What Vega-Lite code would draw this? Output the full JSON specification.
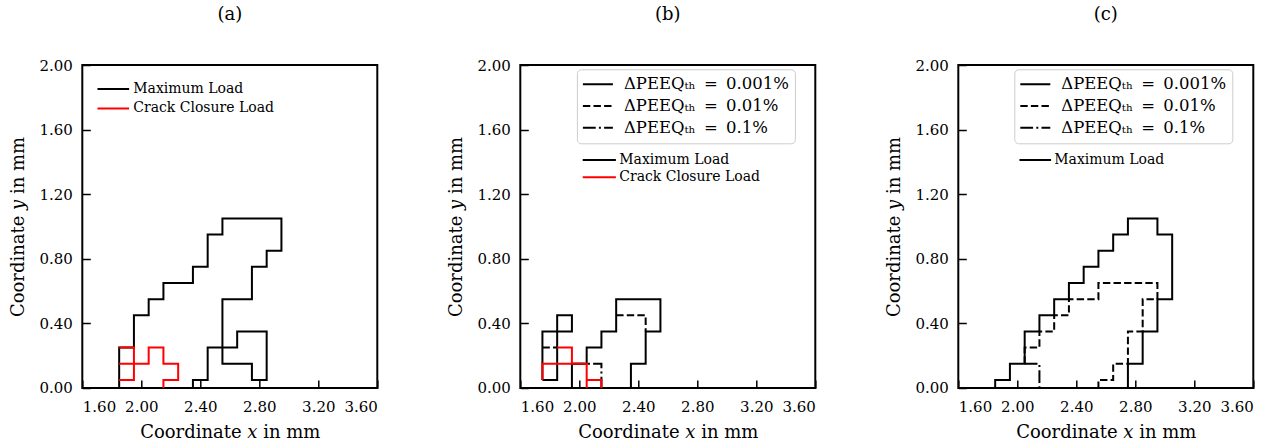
{
"$schema": "https://vega.github.io/schema/vega-lite/v6.json",
"autosize": {"type": "pad"},
"padding": {"left": 8.3, "top": 5, "right": 0, "bottom": 0},
"spacing": 143,
"bounds": "flush",
"datasets": {"pts": [
{"p":"a","g":"a1","i":0,"x":1.85,"y":0,"load":"Maximum Load","lev":"0.001%"},
{"p":"a","g":"a1","i":1,"x":1.85,"y":0.25,"load":"Maximum Load","lev":"0.001%"},
{"p":"a","g":"a1","i":2,"x":1.95,"y":0.25,"load":"Maximum Load","lev":"0.001%"},
{"p":"a","g":"a1","i":3,"x":1.95,"y":0.45,"load":"Maximum Load","lev":"0.001%"},
{"p":"a","g":"a1","i":4,"x":2.05,"y":0.45,"load":"Maximum Load","lev":"0.001%"},
{"p":"a","g":"a1","i":5,"x":2.05,"y":0.55,"load":"Maximum Load","lev":"0.001%"},
{"p":"a","g":"a1","i":6,"x":2.15,"y":0.55,"load":"Maximum Load","lev":"0.001%"},
{"p":"a","g":"a1","i":7,"x":2.15,"y":0.65,"load":"Maximum Load","lev":"0.001%"},
{"p":"a","g":"a1","i":8,"x":2.35,"y":0.65,"load":"Maximum Load","lev":"0.001%"},
{"p":"a","g":"a1","i":9,"x":2.35,"y":0.75,"load":"Maximum Load","lev":"0.001%"},
{"p":"a","g":"a1","i":10,"x":2.45,"y":0.75,"load":"Maximum Load","lev":"0.001%"},
{"p":"a","g":"a1","i":11,"x":2.45,"y":0.95,"load":"Maximum Load","lev":"0.001%"},
{"p":"a","g":"a1","i":12,"x":2.55,"y":0.95,"load":"Maximum Load","lev":"0.001%"},
{"p":"a","g":"a1","i":13,"x":2.55,"y":1.05,"load":"Maximum Load","lev":"0.001%"},
{"p":"a","g":"a1","i":14,"x":2.95,"y":1.05,"load":"Maximum Load","lev":"0.001%"},
{"p":"a","g":"a1","i":15,"x":2.95,"y":0.85,"load":"Maximum Load","lev":"0.001%"},
{"p":"a","g":"a1","i":16,"x":2.85,"y":0.85,"load":"Maximum Load","lev":"0.001%"},
{"p":"a","g":"a1","i":17,"x":2.85,"y":0.75,"load":"Maximum Load","lev":"0.001%"},
{"p":"a","g":"a1","i":18,"x":2.75,"y":0.75,"load":"Maximum Load","lev":"0.001%"},
{"p":"a","g":"a1","i":19,"x":2.75,"y":0.55,"load":"Maximum Load","lev":"0.001%"},
{"p":"a","g":"a1","i":20,"x":2.55,"y":0.55,"load":"Maximum Load","lev":"0.001%"},
{"p":"a","g":"a1","i":21,"x":2.55,"y":0.15,"load":"Maximum Load","lev":"0.001%"},
{"p":"a","g":"a1","i":22,"x":2.75,"y":0.15,"load":"Maximum Load","lev":"0.001%"},
{"p":"a","g":"a1","i":23,"x":2.75,"y":0.05,"load":"Maximum Load","lev":"0.001%"},
{"p":"a","g":"a1","i":24,"x":2.85,"y":0.05,"load":"Maximum Load","lev":"0.001%"},
{"p":"a","g":"a1","i":25,"x":2.85,"y":0.35,"load":"Maximum Load","lev":"0.001%"},
{"p":"a","g":"a1","i":26,"x":2.65,"y":0.35,"load":"Maximum Load","lev":"0.001%"},
{"p":"a","g":"a1","i":27,"x":2.65,"y":0.25,"load":"Maximum Load","lev":"0.001%"},
{"p":"a","g":"a1","i":28,"x":2.45,"y":0.25,"load":"Maximum Load","lev":"0.001%"},
{"p":"a","g":"a1","i":29,"x":2.45,"y":0.05,"load":"Maximum Load","lev":"0.001%"},
{"p":"a","g":"a1","i":30,"x":2.35,"y":0.05,"load":"Maximum Load","lev":"0.001%"},
{"p":"a","g":"a1","i":31,"x":2.35,"y":0,"load":"Maximum Load","lev":"0.001%"},
{"p":"a","g":"a2","i":0,"x":2.15,"y":0,"load":"Crack Closure Load","lev":"0.001%"},
{"p":"a","g":"a2","i":1,"x":2.15,"y":0.05,"load":"Crack Closure Load","lev":"0.001%"},
{"p":"a","g":"a2","i":2,"x":2.25,"y":0.05,"load":"Crack Closure Load","lev":"0.001%"},
{"p":"a","g":"a2","i":3,"x":2.25,"y":0.15,"load":"Crack Closure Load","lev":"0.001%"},
{"p":"a","g":"a2","i":4,"x":2.15,"y":0.15,"load":"Crack Closure Load","lev":"0.001%"},
{"p":"a","g":"a2","i":5,"x":2.15,"y":0.25,"load":"Crack Closure Load","lev":"0.001%"},
{"p":"a","g":"a2","i":6,"x":2.05,"y":0.25,"load":"Crack Closure Load","lev":"0.001%"},
{"p":"a","g":"a2","i":7,"x":2.05,"y":0.15,"load":"Crack Closure Load","lev":"0.001%"},
{"p":"a","g":"a2","i":8,"x":1.85,"y":0.15,"load":"Crack Closure Load","lev":"0.001%"},
{"p":"a","g":"a3","i":0,"x":1.85,"y":0.05,"load":"Crack Closure Load","lev":"0.001%"},
{"p":"a","g":"a3","i":1,"x":1.95,"y":0.05,"load":"Crack Closure Load","lev":"0.001%"},
{"p":"a","g":"a3","i":2,"x":1.95,"y":0.25,"load":"Crack Closure Load","lev":"0.001%"},
{"p":"a","g":"a3","i":3,"x":1.85,"y":0.25,"load":"Crack Closure Load","lev":"0.001%"},
{"p":"b","g":"b1","i":0,"x":1.95,"y":0,"load":"Maximum Load","lev":"0.001%"},
{"p":"b","g":"b1","i":1,"x":1.95,"y":0.15,"load":"Maximum Load","lev":"0.001%"},
{"p":"b","g":"b1","i":2,"x":2.05,"y":0.15,"load":"Maximum Load","lev":"0.001%"},
{"p":"b","g":"b1","i":3,"x":2.05,"y":0.25,"load":"Maximum Load","lev":"0.001%"},
{"p":"b","g":"b1","i":4,"x":2.15,"y":0.25,"load":"Maximum Load","lev":"0.001%"},
{"p":"b","g":"b1","i":5,"x":2.15,"y":0.35,"load":"Maximum Load","lev":"0.001%"},
{"p":"b","g":"b1","i":6,"x":2.25,"y":0.35,"load":"Maximum Load","lev":"0.001%"},
{"p":"b","g":"b1","i":7,"x":2.25,"y":0.55,"load":"Maximum Load","lev":"0.001%"},
{"p":"b","g":"b1","i":8,"x":2.55,"y":0.55,"load":"Maximum Load","lev":"0.001%"},
{"p":"b","g":"b1","i":9,"x":2.55,"y":0.35,"load":"Maximum Load","lev":"0.001%"},
{"p":"b","g":"b1","i":10,"x":2.45,"y":0.35,"load":"Maximum Load","lev":"0.001%"},
{"p":"b","g":"b1","i":11,"x":2.45,"y":0.15,"load":"Maximum Load","lev":"0.001%"},
{"p":"b","g":"b1","i":12,"x":2.35,"y":0.15,"load":"Maximum Load","lev":"0.001%"},
{"p":"b","g":"b1","i":13,"x":2.35,"y":0,"load":"Maximum Load","lev":"0.001%"},
{"p":"b","g":"b2","i":0,"x":1.75,"y":0.05,"load":"Maximum Load","lev":"0.001%"},
{"p":"b","g":"b2","i":1,"x":1.75,"y":0.35,"load":"Maximum Load","lev":"0.001%"},
{"p":"b","g":"b2","i":2,"x":1.95,"y":0.35,"load":"Maximum Load","lev":"0.001%"},
{"p":"b","g":"b2","i":3,"x":1.95,"y":0.45,"load":"Maximum Load","lev":"0.001%"},
{"p":"b","g":"b2","i":4,"x":1.85,"y":0.45,"load":"Maximum Load","lev":"0.001%"},
{"p":"b","g":"b2","i":5,"x":1.85,"y":0.05,"load":"Maximum Load","lev":"0.001%"},
{"p":"b","g":"b2","i":6,"x":1.75,"y":0.05,"load":"Maximum Load","lev":"0.001%"},
{"p":"b","g":"b3","i":0,"x":2.25,"y":0.45,"load":"Maximum Load","lev":"0.01%"},
{"p":"b","g":"b3","i":1,"x":2.45,"y":0.45,"load":"Maximum Load","lev":"0.01%"},
{"p":"b","g":"b3","i":2,"x":2.45,"y":0.35,"load":"Maximum Load","lev":"0.01%"},
{"p":"b","g":"b4","i":0,"x":1.75,"y":0.25,"load":"Maximum Load","lev":"0.01%"},
{"p":"b","g":"b4","i":1,"x":1.85,"y":0.25,"load":"Maximum Load","lev":"0.01%"},
{"p":"b","g":"b5","i":0,"x":1.95,"y":0.15,"load":"Maximum Load","lev":"0.1%"},
{"p":"b","g":"b5","i":1,"x":2.15,"y":0.15,"load":"Maximum Load","lev":"0.1%"},
{"p":"b","g":"b5","i":2,"x":2.15,"y":0,"load":"Maximum Load","lev":"0.1%"},
{"p":"b","g":"b6","i":0,"x":2.15,"y":0,"load":"Crack Closure Load","lev":"0.001%"},
{"p":"b","g":"b6","i":1,"x":2.15,"y":0.05,"load":"Crack Closure Load","lev":"0.001%"},
{"p":"b","g":"b6","i":2,"x":2.05,"y":0.05,"load":"Crack Closure Load","lev":"0.001%"},
{"p":"b","g":"b7","i":0,"x":2.05,"y":0,"load":"Crack Closure Load","lev":"0.001%"},
{"p":"b","g":"b7","i":1,"x":2.05,"y":0.15,"load":"Crack Closure Load","lev":"0.001%"},
{"p":"b","g":"b7","i":2,"x":1.75,"y":0.15,"load":"Crack Closure Load","lev":"0.001%"},
{"p":"b","g":"b7","i":3,"x":1.75,"y":0.05,"load":"Crack Closure Load","lev":"0.001%"},
{"p":"b","g":"b8","i":0,"x":1.85,"y":0.25,"load":"Crack Closure Load","lev":"0.001%"},
{"p":"b","g":"b8","i":1,"x":1.95,"y":0.25,"load":"Crack Closure Load","lev":"0.001%"},
{"p":"b","g":"b8","i":2,"x":1.95,"y":0.15,"load":"Crack Closure Load","lev":"0.001%"},
{"p":"c","g":"c1","i":0,"x":1.85,"y":0,"load":"Maximum Load","lev":"0.001%"},
{"p":"c","g":"c1","i":1,"x":1.85,"y":0.05,"load":"Maximum Load","lev":"0.001%"},
{"p":"c","g":"c1","i":2,"x":1.95,"y":0.05,"load":"Maximum Load","lev":"0.001%"},
{"p":"c","g":"c1","i":3,"x":1.95,"y":0.15,"load":"Maximum Load","lev":"0.001%"},
{"p":"c","g":"c1","i":4,"x":2.05,"y":0.15,"load":"Maximum Load","lev":"0.001%"},
{"p":"c","g":"c1","i":5,"x":2.05,"y":0.35,"load":"Maximum Load","lev":"0.001%"},
{"p":"c","g":"c1","i":6,"x":2.15,"y":0.35,"load":"Maximum Load","lev":"0.001%"},
{"p":"c","g":"c1","i":7,"x":2.15,"y":0.45,"load":"Maximum Load","lev":"0.001%"},
{"p":"c","g":"c1","i":8,"x":2.25,"y":0.45,"load":"Maximum Load","lev":"0.001%"},
{"p":"c","g":"c1","i":9,"x":2.25,"y":0.55,"load":"Maximum Load","lev":"0.001%"},
{"p":"c","g":"c1","i":10,"x":2.35,"y":0.55,"load":"Maximum Load","lev":"0.001%"},
{"p":"c","g":"c1","i":11,"x":2.35,"y":0.65,"load":"Maximum Load","lev":"0.001%"},
{"p":"c","g":"c1","i":12,"x":2.45,"y":0.65,"load":"Maximum Load","lev":"0.001%"},
{"p":"c","g":"c1","i":13,"x":2.45,"y":0.75,"load":"Maximum Load","lev":"0.001%"},
{"p":"c","g":"c1","i":14,"x":2.55,"y":0.75,"load":"Maximum Load","lev":"0.001%"},
{"p":"c","g":"c1","i":15,"x":2.55,"y":0.85,"load":"Maximum Load","lev":"0.001%"},
{"p":"c","g":"c1","i":16,"x":2.65,"y":0.85,"load":"Maximum Load","lev":"0.001%"},
{"p":"c","g":"c1","i":17,"x":2.65,"y":0.95,"load":"Maximum Load","lev":"0.001%"},
{"p":"c","g":"c1","i":18,"x":2.75,"y":0.95,"load":"Maximum Load","lev":"0.001%"},
{"p":"c","g":"c1","i":19,"x":2.75,"y":1.05,"load":"Maximum Load","lev":"0.001%"},
{"p":"c","g":"c1","i":20,"x":2.95,"y":1.05,"load":"Maximum Load","lev":"0.001%"},
{"p":"c","g":"c1","i":21,"x":2.95,"y":0.95,"load":"Maximum Load","lev":"0.001%"},
{"p":"c","g":"c1","i":22,"x":3.05,"y":0.95,"load":"Maximum Load","lev":"0.001%"},
{"p":"c","g":"c1","i":23,"x":3.05,"y":0.55,"load":"Maximum Load","lev":"0.001%"},
{"p":"c","g":"c1","i":24,"x":2.95,"y":0.55,"load":"Maximum Load","lev":"0.001%"},
{"p":"c","g":"c1","i":25,"x":2.95,"y":0.35,"load":"Maximum Load","lev":"0.001%"},
{"p":"c","g":"c1","i":26,"x":2.85,"y":0.35,"load":"Maximum Load","lev":"0.001%"},
{"p":"c","g":"c1","i":27,"x":2.85,"y":0.15,"load":"Maximum Load","lev":"0.001%"},
{"p":"c","g":"c1","i":28,"x":2.75,"y":0.15,"load":"Maximum Load","lev":"0.001%"},
{"p":"c","g":"c1","i":29,"x":2.75,"y":0,"load":"Maximum Load","lev":"0.001%"},
{"p":"c","g":"c2","i":0,"x":2.05,"y":0.15,"load":"Maximum Load","lev":"0.01%"},
{"p":"c","g":"c2","i":1,"x":2.05,"y":0.25,"load":"Maximum Load","lev":"0.01%"},
{"p":"c","g":"c2","i":2,"x":2.15,"y":0.25,"load":"Maximum Load","lev":"0.01%"},
{"p":"c","g":"c2","i":3,"x":2.15,"y":0.35,"load":"Maximum Load","lev":"0.01%"},
{"p":"c","g":"c2","i":4,"x":2.25,"y":0.35,"load":"Maximum Load","lev":"0.01%"},
{"p":"c","g":"c2","i":5,"x":2.25,"y":0.45,"load":"Maximum Load","lev":"0.01%"},
{"p":"c","g":"c2","i":6,"x":2.35,"y":0.45,"load":"Maximum Load","lev":"0.01%"},
{"p":"c","g":"c2","i":7,"x":2.35,"y":0.55,"load":"Maximum Load","lev":"0.01%"},
{"p":"c","g":"c2","i":8,"x":2.55,"y":0.55,"load":"Maximum Load","lev":"0.01%"},
{"p":"c","g":"c2","i":9,"x":2.55,"y":0.65,"load":"Maximum Load","lev":"0.01%"},
{"p":"c","g":"c2","i":10,"x":2.95,"y":0.65,"load":"Maximum Load","lev":"0.01%"},
{"p":"c","g":"c2","i":11,"x":2.95,"y":0.55,"load":"Maximum Load","lev":"0.01%"},
{"p":"c","g":"c2","i":12,"x":2.85,"y":0.55,"load":"Maximum Load","lev":"0.01%"},
{"p":"c","g":"c2","i":13,"x":2.85,"y":0.35,"load":"Maximum Load","lev":"0.01%"},
{"p":"c","g":"c2","i":14,"x":2.75,"y":0.35,"load":"Maximum Load","lev":"0.01%"},
{"p":"c","g":"c2","i":15,"x":2.75,"y":0.15,"load":"Maximum Load","lev":"0.01%"},
{"p":"c","g":"c2","i":16,"x":2.65,"y":0.15,"load":"Maximum Load","lev":"0.01%"},
{"p":"c","g":"c2","i":17,"x":2.65,"y":0.05,"load":"Maximum Load","lev":"0.01%"},
{"p":"c","g":"c2","i":18,"x":2.55,"y":0.05,"load":"Maximum Load","lev":"0.01%"},
{"p":"c","g":"c2","i":19,"x":2.55,"y":0,"load":"Maximum Load","lev":"0.01%"},
{"p":"c","g":"c3","i":0,"x":2.05,"y":0.15,"load":"Maximum Load","lev":"0.1%"},
{"p":"c","g":"c3","i":1,"x":2.15,"y":0.15,"load":"Maximum Load","lev":"0.1%"},
{"p":"c","g":"c3","i":2,"x":2.15,"y":0,"load":"Maximum Load","lev":"0.1%"}
]},
"resolve": {"scale": {"color": "independent", "strokeDash": "independent", "x": "independent", "y": "independent"}},
"hconcat": [
{
 "title": "(a)",
 "width": 295, "height": 323,
 "data": {"name": "pts"},
 "transform": [{"filter": "datum.p == 'a'"}],
 "encoding": {
  "x": {"field": "x", "type": "quantitative", "scale": {"domain": [1.6, 3.6], "nice": false, "zero": false}, "axis": {"values": [1.6, 2.0, 2.4, 2.8, 3.2, 3.6], "format": ".2f", "title": "Coordinate 𝑥 in mm"}},
  "y": {"field": "y", "type": "quantitative", "scale": {"domain": [0, 2], "nice": false, "zero": false}, "axis": {"values": [0, 0.4, 0.8, 1.2, 1.6, 2.0], "format": ".2f", "title": "Coordinate 𝑦 in mm"}},
  "order": {"field": "i", "type": "quantitative"},
  "detail": {"field": "g", "type": "nominal"},
  "color": {"field": "load", "type": "nominal", "scale": {"domain": ["Maximum Load", "Crack Closure Load"], "range": ["#000000", "#ff0000"]},
   "legend": {"title": null, "orient": "none", "legendX": 14, "legendY": 16, "symbolSize": 1000, "clipHeight": 16, "rowPadding": 3.4, "labelOffset": 3, "padding": 0}}
 },
 "layer": [
  {"transform": [{"filter": "datum.load == 'Maximum Load'"}], "mark": {"type": "line", "strokeWidth": 2}},
  {"transform": [{"filter": "datum.load != 'Maximum Load'"}], "mark": {"type": "line", "strokeWidth": 2}}
 ]
},
{
 "title": "(b)",
 "width": 295, "height": 323,
 "data": {"name": "pts"},
 "transform": [{"filter": "datum.p == 'b'"}],
 "encoding": {
  "x": {"field": "x", "type": "quantitative", "scale": {"domain": [1.6, 3.6], "nice": false, "zero": false}, "axis": {"values": [1.6, 2.0, 2.4, 2.8, 3.2, 3.6], "format": ".2f", "title": "Coordinate 𝑥 in mm"}},
  "y": {"field": "y", "type": "quantitative", "scale": {"domain": [0, 2], "nice": false, "zero": false}, "axis": {"values": [0, 0.4, 0.8, 1.2, 1.6, 2.0], "format": ".2f", "title": "Coordinate 𝑦 in mm"}},
  "order": {"field": "i", "type": "quantitative"},
  "detail": {"field": "g", "type": "nominal"},
  "color": {"field": "load", "type": "nominal", "scale": {"domain": ["Maximum Load", "Crack Closure Load"], "range": ["#000000", "#ff0000"]},
   "legend": {"title": null, "orient": "none", "legendX": 61, "legendY": 88, "symbolSize": 1100, "clipHeight": 14, "rowPadding": 3.3, "labelOffset": 2, "padding": 0}},
  "strokeDash": {"field": "lev", "type": "nominal", "scale": {"domain": ["0.001%", "0.01%", "0.1%"], "range": [[1, 0], [7.4, 3.2], [12.8, 3.2, 2, 3.2]]},
   "legend": {"title": null, "orient": "none", "legendX": 56.6, "legendY": 4.3, "padding": 5, "strokeColor": "#cccccc", "fillColor": "#ffffff", "cornerRadius": 4, "symbolSize": 900, "clipHeight": 20, "rowPadding": 1.7, "labelOffset": 10, "labelFontSize": 16.5, "symbolStrokeColor": "#000000", "labelExpr": "'ΔPEEQₜₕ\u2002=\u2002' + datum.label"}}
 },
 "layer": [
  {"transform": [{"filter": "datum.load == 'Maximum Load'"}], "mark": {"type": "line", "strokeWidth": 2}},
  {"transform": [{"filter": "datum.load != 'Maximum Load'"}], "mark": {"type": "line", "strokeWidth": 2}}
 ]
},
{
 "title": "(c)",
 "width": 295, "height": 323,
 "data": {"name": "pts"},
 "transform": [{"filter": "datum.p == 'c'"}],
 "encoding": {
  "x": {"field": "x", "type": "quantitative", "scale": {"domain": [1.6, 3.6], "nice": false, "zero": false}, "axis": {"values": [1.6, 2.0, 2.4, 2.8, 3.2, 3.6], "format": ".2f", "title": "Coordinate 𝑥 in mm"}},
  "y": {"field": "y", "type": "quantitative", "scale": {"domain": [0, 2], "nice": false, "zero": false}, "axis": {"values": [0, 0.4, 0.8, 1.2, 1.6, 2.0], "format": ".2f", "title": "Coordinate 𝑦 in mm"}},
  "order": {"field": "i", "type": "quantitative"},
  "detail": {"field": "g", "type": "nominal"},
  "color": {"field": "load", "type": "nominal", "scale": {"domain": ["Maximum Load"], "range": ["#000000"]},
   "legend": {"title": null, "orient": "none", "legendX": 60, "legendY": 88, "symbolSize": 1000, "clipHeight": 14, "rowPadding": 3.3, "labelOffset": 2, "padding": 0}},
  "strokeDash": {"field": "lev", "type": "nominal", "scale": {"domain": ["0.001%", "0.01%", "0.1%"], "range": [[1, 0], [7.4, 3.2], [12.8, 3.2, 2, 3.2]]},
   "legend": {"title": null, "orient": "none", "legendX": 56, "legendY": 4.3, "padding": 5, "strokeColor": "#cccccc", "fillColor": "#ffffff", "cornerRadius": 4, "symbolSize": 900, "clipHeight": 20, "rowPadding": 1.7, "labelOffset": 10, "labelFontSize": 16.5, "symbolStrokeColor": "#000000", "labelExpr": "'ΔPEEQₜₕ\u2002=\u2002' + datum.label"}}
 },
 "mark": {"type": "line", "strokeWidth": 2}
}
],
"config": {
 "font": "DejaVu Serif",
 "view": {"stroke": "#000000", "strokeWidth": 2},
 "axis": {"domain": false, "grid": false, "ticks": true, "tickSize": -8, "tickColor": "#000000", "tickWidth": 1.5, "labelFont": "DejaVu Serif", "labelFontSize": 15, "labelColor": "#000000", "titleFont": "DejaVu Serif", "titleFontSize": 18, "titleFontWeight": "normal", "titleColor": "#000000"},
 "axisX": {"labelPadding": 20, "titlePadding": 9},
 "axisY": {"labelPadding": 18, "titlePadding": 11},
 "title": {"font": "DejaVu Serif", "fontSize": 18, "fontWeight": "normal", "color": "#000000", "anchor": "middle", "offset": 34},
 "legend": {"labelFont": "DejaVu Serif", "labelFontSize": 14, "labelColor": "#000000", "symbolType": "stroke", "symbolStrokeWidth": 2, "labelLimit": 400}
}
}
